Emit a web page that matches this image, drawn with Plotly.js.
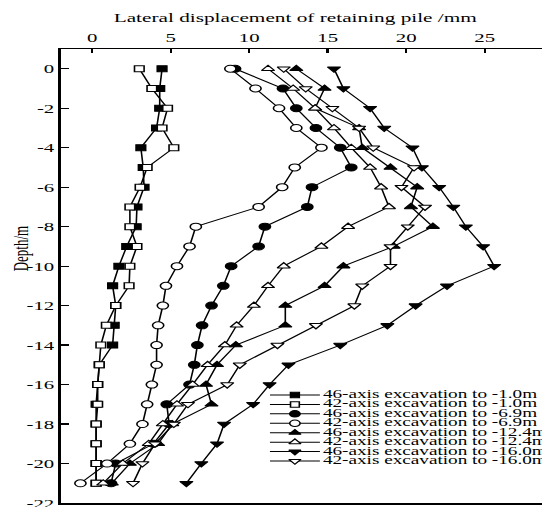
<!DOCTYPE html>
<html>
<head>
<meta charset="utf-8">
<script src="https://cdn.plot.ly/plotly-3.0.1.min.js"></script>
<style>
html,body{margin:0;padding:0;background:#fff;overflow:hidden;}
#wrap{width:542px;height:507px;overflow:hidden;position:relative;}
#plot{width:360px;height:507px;transform:scaleX(1.6);transform-origin:0 0;}
</style>
</head>
<body>
<div id="wrap"><div id="plot"></div></div>
<script>
// ---- data ----
const depth = [0,-1,-2,-3,-4,-5,-6,-7,-8,-9,-10,-11,-12,-13,-14,-15,-16,-17,-18,-19,-20,-21];
const s46_10  = [4.45,4.3,4.3,4.1,3.1,3.25,3.3,2.85,2.8,2.2,1.7,1.3,1.5,1.4,1.3,0.45,0.35,0.25,0.25,0.25,0.25,0.25];
const s42_10  = [3.0,3.8,4.8,4.45,5.2,3.5,3.05,2.4,2.4,2.85,2.4,2.35,1.5,0.9,0.55,0.45,0.35,0.35,0.25,0.25,0.25,0.25];
const s46_69  = [9.1,12.15,13.0,14.25,15.8,16.5,14.0,13.7,11.0,10.6,8.85,8.35,7.6,7.0,6.7,6.5,6.2,4.75,4.9,3.9,1.5,1.2];
const s42_69  = [8.8,10.4,11.9,13.0,14.6,12.9,12.1,10.6,6.6,6.2,5.4,4.7,4.5,4.2,4.1,4.1,3.8,3.5,3.2,2.4,0.95,-0.75];
const s46_124 = [13.0,14.8,14.2,17.0,17.2,19.0,20.7,20.3,21.7,19.2,16.0,14.8,12.3,12.3,9.15,7.95,7.25,7.6,5.1,4.2,2.4,1.25];
const s42_124 = [11.2,12.8,14.2,15.4,16.5,17.7,18.4,18.9,16.3,14.6,12.2,11.2,10.3,9.2,8.45,7.35,6.4,5.4,4.5,3.6,1.95,0.7];
const s46_160 = [15.4,16.0,17.7,18.6,20.4,21.0,22.1,23.0,23.8,24.9,25.6,22.6,20.6,18.8,15.8,12.5,11.3,10.25,8.4,7.95,6.95,6.0];
const s42_160 = [12.2,13.6,15.3,17.0,17.9,20.5,19.7,21.2,20.1,19.0,19.0,17.2,16.7,14.25,11.8,9.4,8.6,6.1,5.2,4.0,3.2,2.6];
const seriesNames = [
  "46-axis excavation to -1.0m",
  "42-axis excavation to -1.0m",
  "46-axis excavation to -6.9m",
  "42-axis excavation to -6.9m",
  "46-axis excavation to -12.4m",
  "42-axis excavation to -12.4m",
  "46-axis excavation to -16.0m",
  "42-axis excavation to -16.0m"
];
const xTickVals = [0,5,10,15,20,25];
const xTickText = ["0","5","10","15","20","25"];
const yTickVals = [0,-2,-4,-6,-8,-10,-12,-14,-16,-18,-20,-22];
const yTickText = ["0","-2","-4","-6","-8","-10","-12","-14","-16","-18","-20","-22"];
const xTitle = "Lateral displacement of retaining pile /mm";
const yTitle = "Depth/m";

// ---- styling ----
const seriesValues = [s46_10,s42_10,s46_69,s42_69,s46_124,s42_124,s46_160,s42_160];
const symbols = ["square","square","circle","circle","triangle-up","triangle-up","triangle-down","triangle-down"];
const fills = ["#000","#fff","#000","#fff","#000","#fff","#000","#fff"];
const sizes = [6,6,7,7,7,7,7,7];
const FONT = '"Liberation Serif", serif';

const traces = [];
seriesValues.forEach((vals,i)=>{
  traces.push({
    x: vals, y: depth, type:"scatter", mode:"lines+markers",
    line:{color:"#000", width:1},
    marker:{symbol:symbols[i], size:sizes[i], color:fills[i], line:{color:"#000", width:1}},
    showlegend:false, cliponaxis:false, hoverinfo:"skip"
  });
});

// custom compact legend on an overlaying axis pair
const lgX = [0.4163, 0.466, 0.5157];
const lgTextX = 0.5217;
const rowY = seriesNames.map((_,i)=> (503 - (395 + 9.43*i)) / 454);
seriesNames.forEach((nm,i)=>{
  traces.push({
    x: lgX, y:[rowY[i],rowY[i],rowY[i]], xaxis:"x2", yaxis:"y2",
    type:"scatter", mode:"lines+markers",
    line:{color:"#000", width:1},
    marker:{symbol:symbols[i], size:sizes[i]-0.5, color:fills[i], opacity:[0,1,0], line:{color:"#000", width:1}},
    showlegend:false, cliponaxis:false, hoverinfo:"skip"
  });
});
traces.push({
  x: seriesNames.map(()=>lgTextX), y: rowY, xaxis:"x2", yaxis:"y2",
  type:"scatter", mode:"text", text: seriesNames, textposition:"middle right",
  textfont:{family:FONT, size:12, color:"#000"},
  showlegend:false, cliponaxis:false, hoverinfo:"skip"
});

const layout = {
  width:360, height:507,
  margin:{l:37.85, r:7.75, t:49, b:4, pad:0},
  paper_bgcolor:"#fff", plot_bgcolor:"#fff",
  showlegend:false,
  font:{family:FONT, size:13, color:"#000"},
  xaxis:{
    side:"top", range:[-2,30], autorange:false,
    tickmode:"array", tickvals:xTickVals, ticktext:xTickText,
    ticks:"inside", ticklen:4, tickwidth:1.5, tickcolor:"#000",
    showline:true, linewidth:1.5, linecolor:"#000", mirror:true,
    showgrid:false, zeroline:false,
    tickfont:{family:FONT, size:13, color:"#000"}
  },
  yaxis:{
    range:[-22,1], autorange:false,
    tickmode:"array", tickvals:yTickVals, ticktext:yTickText,
    ticks:"inside", ticklen:5, tickwidth:1.2, tickcolor:"#000",
    showline:true, linewidth:1.5, linecolor:"#000", mirror:true,
    showgrid:false, zeroline:false, ticklabeloverflow:"allow",
    tickfont:{family:FONT, size:13, color:"#000"}
  },
  xaxis2:{overlaying:"x", range:[0,1], autorange:false, visible:false, fixedrange:true},
  yaxis2:{overlaying:"y", range:[0,1], autorange:false, visible:false, fixedrange:true},
  annotations:[
    {text:xTitle, xref:"paper", yref:"paper", x:0.469, y:1.0683, xanchor:"center", yanchor:"middle",
     showarrow:false, font:{family:FONT, size:13.3, color:"#000"}},
    {text:yTitle, xref:"paper", yref:"paper", x:-0.0786, y:0.5617, xanchor:"center", yanchor:"middle",
     textangle:-90, showarrow:false, font:{family:FONT, size:13, color:"#000"}}
  ]
};

Plotly.newPlot("plot", traces, layout, {staticPlot:true, displayModeBar:false});
</script>
</body>
</html>
